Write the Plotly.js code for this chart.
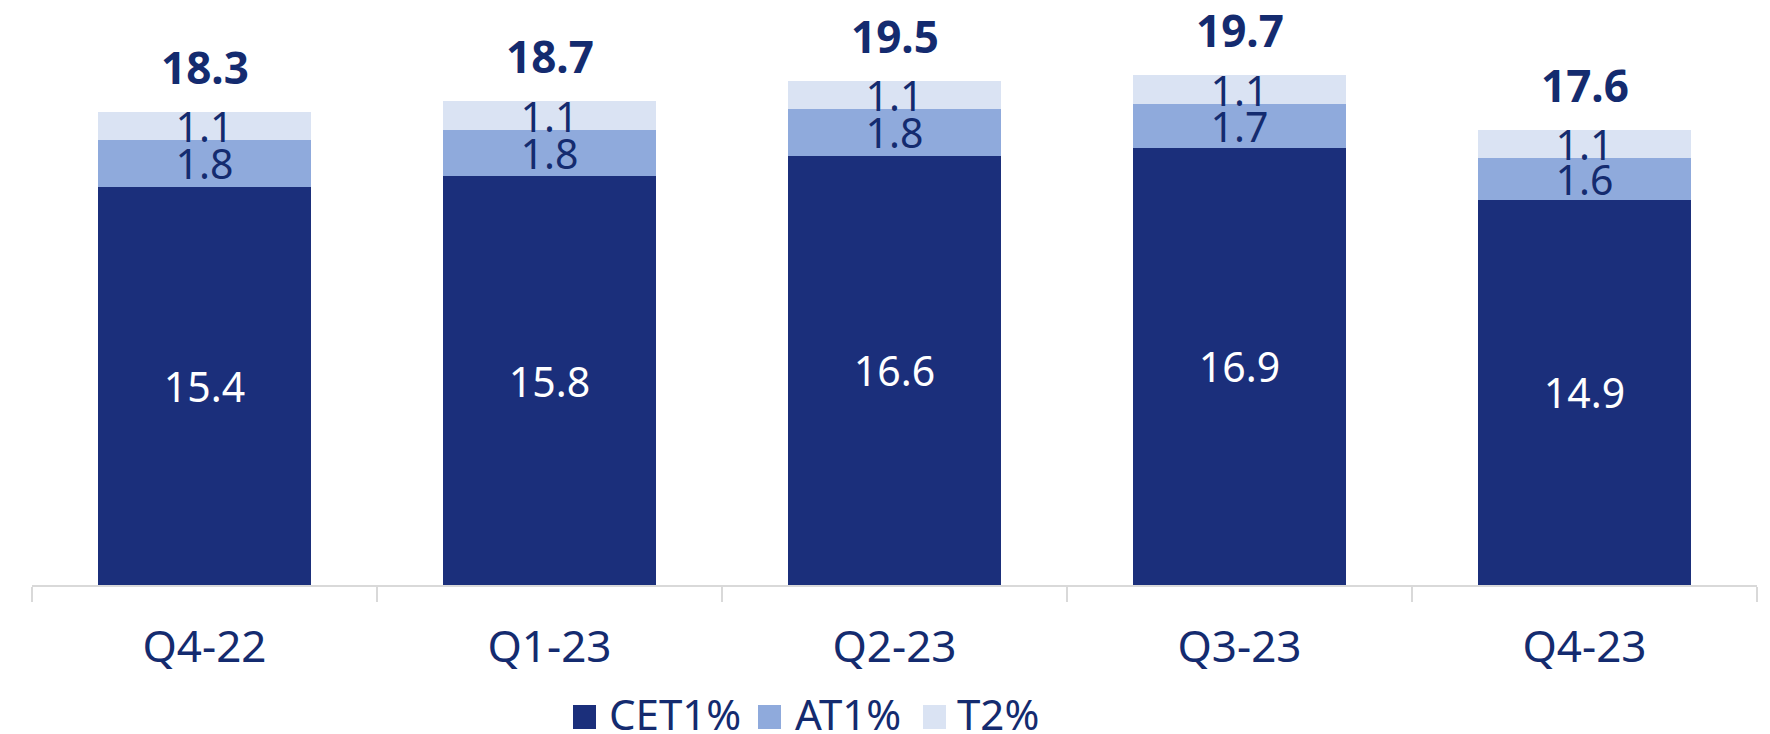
<!DOCTYPE html>
<html>
<head>
<meta charset="utf-8">
<script src="https://cdn.plot.ly/plotly-3.0.1.min.js"></script>
<style>
html,body{margin:0;padding:0;background:#fff;}
#chart{width:1770px;height:734px;}
</style>
</head>
<body>
<div id="chart"></div>
<script>
const categories = ['Q4-22', 'Q1-23', 'Q2-23', 'Q3-23', 'Q4-23'];
const cet1 = [15.4, 15.8, 16.6, 16.9, 14.9];
const at1 = [1.8, 1.8, 1.8, 1.7, 1.6];
const t2 = [1.1, 1.1, 1.1, 1.1, 1.1];
const totals = [18.3, 18.7, 19.5, 19.7, 17.6];
const seriesNames = ['CET1%', 'AT1%', 'T2%'];

const colors = ['#1B2F7B', '#8FAADC', '#DAE3F3'];
const navy = '#142B6F';
const FONT = '"Noto Sans", "Open Sans", sans-serif';

function barTrace(vals, name, color, txtColor) {
  return {
    type: 'bar', x: categories, y: vals, name: name,
    marker: {color: color},
    text: vals.map(v => v.toFixed(1)),
    textposition: 'inside', insidetextanchor: 'middle',
    textangle: 0, constraintext: 'none',
    textfont: {family: FONT, size: 41, color: txtColor},
    hoverinfo: 'skip', cliponaxis: false
  };
}

const data = [
  barTrace(cet1, seriesNames[0], colors[0], '#ffffff'),
  barTrace(at1, seriesNames[1], colors[1], navy),
  barTrace(t2, seriesNames[2], colors[2], navy)
];

const L = 32, R = 13, T = 16, B = 149, W = 1770, H = 734;
const pw = W - L - R, ph = H - T - B;
const px = x => (x - L) / pw;
const py = y => (H - B - y) / ph;

const annotations = categories.map((c, i) => ({
  x: c, y: totals[i], xref: 'x', yref: 'y',
  text: '<b>' + totals[i].toFixed(1) + '</b>',
  showarrow: false, yanchor: 'bottom', yshift: 13,
  font: {family: FONT, size: 44, color: navy}
}));

const legendX = [573, 758, 923];
const legendTextX = [607, 793, 955];
const shapes = [];
seriesNames.forEach((n, i) => {
  shapes.push({type: 'rect', xref: 'paper', yref: 'paper',
    x0: px(legendX[i]), x1: px(legendX[i] + 23),
    y0: py(729), y1: py(705),
    fillcolor: colors[i], line: {width: 0}});
  annotations.push({xref: 'paper', yref: 'paper',
    x: px(legendTextX[i]), y: py(713), xanchor: 'left', yanchor: 'middle',
    text: n, showarrow: false,
    font: {family: FONT, size: 42, color: navy}});
});

const layout = {
  width: W, height: H,
  margin: {l: L, r: R, t: T, b: B},
  paper_bgcolor: '#ffffff', plot_bgcolor: '#ffffff',
  barmode: 'stack', bargap: 0.38,
  showlegend: false,
  xaxis: {
    type: 'category', range: [-0.5, 4.5], fixedrange: true,
    showline: true, linecolor: '#d9d9d9', linewidth: 2,
    ticks: 'outside', tickson: 'boundaries', ticklen: 15,
    tickcolor: '#d9d9d9', tickwidth: 2,
    ticklabelstandoff: 22,
    tickfont: {family: FONT, size: 44, color: navy},
    showgrid: false, zeroline: false
  },
  yaxis: {range: [0, 22], visible: false, fixedrange: true},
  annotations: annotations,
  shapes: shapes
};

Plotly.newPlot('chart', data, layout, {displayModeBar: false, staticPlot: true});
</script>
</body>
</html>
